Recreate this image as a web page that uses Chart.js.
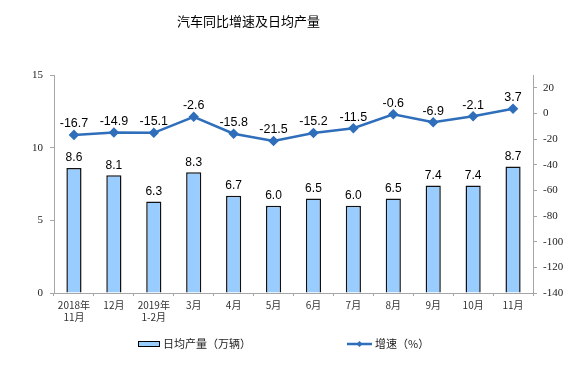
<!DOCTYPE html>
<html>
<head>
<meta charset="utf-8">
<script src="https://cdn.jsdelivr.net/npm/chart.js@4"></script>
<style>
  body { margin: 0; background: #fff; }
  #wrap { position: relative; width: 581px; height: 366px; }
  #title { position: absolute; left: 177px; top: 11px; white-space: nowrap;
           font: 13px "Noto Sans CJK SC", sans-serif; color: #000; }
  .leg { position: absolute; top: 335px; font: 11px "Noto Sans CJK SC", sans-serif; color: #222;
         line-height: 16px; white-space: nowrap; }
  .swatch { display: inline-block; width: 20px; height: 4px; background: #99CCFF; border: 1.5px solid #000;
            vertical-align: middle; margin-right: 3px; position: relative; top: -1px; }
  .lsw { display: inline-block; width: 25px; height: 10px; vertical-align: middle; margin-right: 3px; position: relative; top: -1px; }
</style>
</head>
<body>
<div id="wrap">
  <div id="title">汽车同比增速及日均产量</div>
  <canvas id="c" width="581" height="366"></canvas>
  <div class="leg" style="left:138px"><span class="swatch"></span>日均产量（万辆）</div>
  <div class="leg" style="left:347px"><svg class="lsw" viewBox="0 0 25 10"><line x1="0" y1="5" x2="25" y2="5" stroke="#2F6EBA" stroke-width="2.5"/><path d="M12.5 2 L15.5 5 L12.5 8 L9.5 5 Z" fill="#2F6EBA"/></svg>增速（%）</div>
</div>
<script>
// chart data
const categories = [['2018年', '11月'], '12月', ['2019年', '1-2月'], '3月', '4月', '5月', '6月', '7月', '8月', '9月', '10月', '11月'];
const dailyOutput = [8.6, 8.1, 6.3, 8.3, 6.7, 6.0, 6.5, 6.0, 6.5, 7.4, 7.4, 8.7];
const growthRate = [-16.7, -14.9, -15.1, -2.6, -15.8, -21.5, -15.2, -11.5, -0.6, -6.9, -2.1, 3.7];
const leftTicks = [0, 5, 10, 15];
const rightTicks = [-140, -120, -100, -80, -60, -40, -20, 0, 20];

// value labels above bars and points
const valueLabels = {
    id: 'valueLabels',
    afterDatasetsDraw(chart) {
        const ctx = chart.ctx;
        ctx.save();
        ctx.fillStyle = '#000';
        ctx.textAlign = 'center';
        ctx.textBaseline = 'middle';
        chart.data.datasets.forEach((ds, i) => {
            const meta = chart.getDatasetMeta(i);
            const isBar = ds.type === 'bar';
            ctx.font = (isBar ? '12px' : '12.5px') + ' "Liberation Sans", Arial, sans-serif';
            meta.data.forEach((el, j) => {
                const txt = ds.data[j].toFixed(1);
                ctx.fillText(txt, el.x, el.y - (isBar ? 10 : 11));
            });
        });
        ctx.restore();
    }
};

const axisColor = '#A6A6A6';
const tickFont = { family: '"Liberation Serif", "Times New Roman", serif', size: 11 };

new Chart(document.getElementById('c'), {
    data: {
        labels: categories,
        datasets: [
            {
                type: 'line',
                label: '增速（%）',
                data: growthRate,
                yAxisID: 'y1',
                borderColor: '#2F6EBA',
                backgroundColor: '#2F6EBA',
                borderWidth: 2.5,
                pointStyle: 'rectRot',
                pointRadius: 3.5,
                pointHoverRadius: 3.5,
                tension: 0,
                order: 0
            },
            {
                type: 'bar',
                label: '日均产量（万辆）',
                data: dailyOutput,
                yAxisID: 'y',
                backgroundColor: '#99CCFF',
                borderColor: '#111',
                borderWidth: 1.5,
                barPercentage: 0.4,
                categoryPercentage: 0.95,
                order: 1
            }
        ]
    },
    options: {
        responsive: false,
        animation: false,
        layout: { padding: { top: 75, bottom: 33, left: 0, right: 0 } },
        plugins: { legend: { display: false }, tooltip: { enabled: false } },
        scales: {
            x: {
                grid: { drawOnChartArea: false, offset: true, tickLength: 3, color: axisColor },
                border: { color: axisColor },
                ticks: { color: '#333', font: { family: '"Noto Sans CJK SC", sans-serif', size: 10 }, padding: 3, maxRotation: 0, autoSkip: false },
                afterFit(s) { s.height = 40; }
            },
            y: {
                position: 'left',
                min: 0, max: 15,
                afterBuildTicks(s) { s.ticks = leftTicks.map(v => ({ value: v })); },
                grid: { drawOnChartArea: false, tickLength: 4, color: axisColor },
                border: { color: axisColor },
                ticks: { color: '#222', font: tickFont, padding: 7 },
                afterFit(s) { s.width = 54; }
            },
            y1: {
                position: 'right',
                min: -140, max: 30,
                afterBuildTicks(s) { s.ticks = rightTicks.map(v => ({ value: v })); },
                grid: { drawOnChartArea: false, tickLength: 4, color: axisColor },
                border: { color: axisColor },
                ticks: { color: '#222', font: tickFont, padding: 6 },
                afterFit(s) { s.width = 48; }
            }
        }
    },
    plugins: [valueLabels]
});
</script>
</body>
</html>
